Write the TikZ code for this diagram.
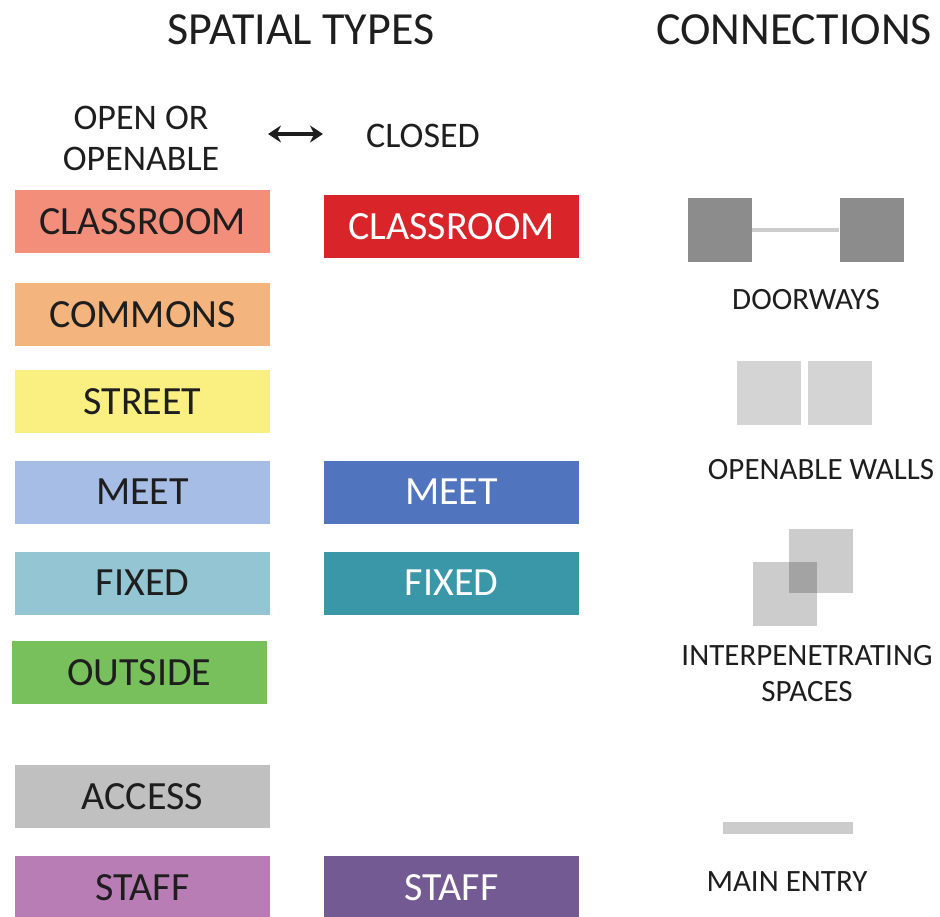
\documentclass[tikz,border=0pt]{standalone}
\usepackage{fontspec}
\setmainfont{Carlito}
\usepackage{tikz}
\usetikzlibrary{arrows.meta}

\definecolor{clsopen}{RGB}{243,142,122}
\definecolor{clsclosed}{RGB}{217,37,42}
\definecolor{commons}{RGB}{244,180,125}
\definecolor{street}{RGB}{250,240,130}
\definecolor{meetopen}{RGB}{166,189,229}
\definecolor{meetclosed}{RGB}{80,116,190}
\definecolor{fixopen}{RGB}{148,197,211}
\definecolor{fixclosed}{RGB}{58,151,168}
\definecolor{outside}{RGB}{120,192,92}
\definecolor{access}{RGB}{192,192,192}
\definecolor{staffopen}{RGB}{184,125,180}
\definecolor{staffclosed}{RGB}{116,90,146}
\definecolor{txt}{RGB}{30,30,30}

\tikzset{
  typebox/.style={minimum width=255pt, minimum height=63pt, inner sep=0pt, font=\fontsize{40}{40}\selectfont, text=txt},
  closedbox/.style={typebox, text=white},
  title/.style={font=\fontsize{46}{46}\selectfont, text=txt},
  head/.style={font=\fontsize{36}{41}\selectfont, text=txt, align=center},
  label/.style={font=\fontsize{31}{36}\selectfont, text=txt, align=center},
  sq/.style={minimum size=64pt, inner sep=0pt}
}

\begin{document}
\begin{tikzpicture}[x=1pt,y=-1pt]%pixel grid, y down
\useasboundingbox (0,0) rectangle (940,916);
\node [title] (spatial) at (301,30) {SPATIAL TYPES};
\node [title] (conn) at (794,30) {CONNECTIONS};
\node [head] (openable) at (141,138) {OPEN OR\\OPENABLE};
\node [head] (closed) at (423,136) {CLOSED};
\coordinate (arrl) at (268,134);
\coordinate (arrr) at (323,134);
\draw [{Stealth[length=13pt,width=17pt]}-{Stealth[length=13pt,width=17pt]}, line width=3.5pt, color=txt] (arrl)--(arrr);
% open or openable
\node [typebox, fill=clsopen] (clso) at (142.5,221.5) {CLASSROOM};
\node [typebox, fill=commons] (comm) at (142.5,314.5) {COMMONS};
\node [typebox, fill=street] (street) at (142.5,401.5) {STREET};
\node [typebox, fill=meetopen] (meeto) at (142.5,492) {MEET};
\node [typebox, fill=fixopen] (fixo) at (142.5,583) {FIXED};
\node [typebox, fill=outside] (outs) at (139.5,672.5) {OUTSIDE};
\node [typebox, fill=access] (acc) at (142.5,796.5) {ACCESS};
\node [typebox, fill=staffopen] (staffo) at (142.5,887.5) {STAFF};
% closed
\node [closedbox, fill=clsclosed] (clsc) at (451.5,226.5) {CLASSROOM};
\node [closedbox, fill=meetclosed] (meetc) at (451.5,492) {MEET};
\node [closedbox, fill=fixclosed] (fixc) at (451.5,583) {FIXED};
\node [closedbox, fill=staffclosed] (staffc) at (451.5,887.5) {STAFF};
% connections
\node [sq, fill=black!45] (doora) at (720,230) {};
\node [sq, fill=black!45] (doorb) at (871.5,230) {};
\draw [line width=3.5pt, color=black!20] (doora.east)--(doorb.west);
\node [label] (doorlbl) at (806,300) {DOORWAYS};
\node [sq, fill=black!17] (walla) at (769,393) {};
\node [sq, fill=black!17] (wallb) at (840,393) {};
\node [label] (walllbl) at (821,470) {OPENABLE WALLS};
\node [sq, fill=black, fill opacity=0.2] (intb) at (820.5,561) {};
\node [sq, fill=black, fill opacity=0.2] (inta) at (785,593.5) {};
\node [label] (intlbl) at (807,674) {INTERPENETRATING\\SPACES};
\node [fill=black!20, minimum width=130pt, minimum height=12pt, inner sep=0pt] (entry) at (788,828) {};
\node [label] (entrylbl) at (787,882) {MAIN ENTRY};
\end{tikzpicture}
\end{document}
